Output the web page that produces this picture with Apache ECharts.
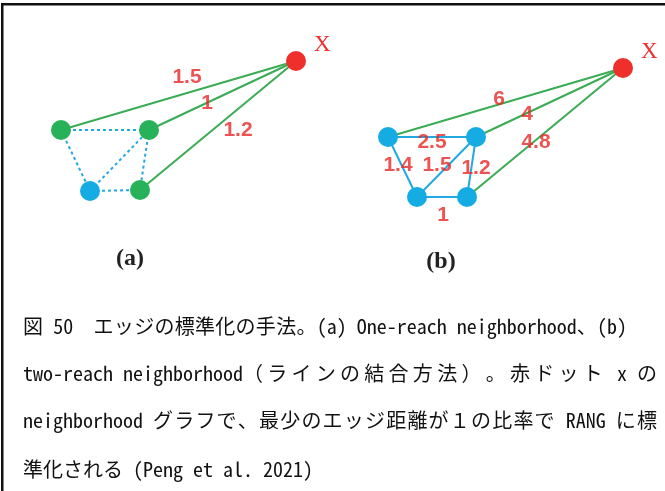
<!DOCTYPE html>
<html>
<head>
<meta charset="utf-8">
<script src="https://cdn.jsdelivr.net/npm/echarts@6/dist/echarts.min.js"></script>
<style>
html,body{margin:0;padding:0;background:#fff;}
#chart{width:665px;height:491px;}
</style>
</head>
<body>
<div id="chart"></div>
<script>
// ---- data (diagram units: x to the right, y downward) ----
const nodeIds   = ['aX','a1','a2','a3','a4','bX','b1','b2','b3','b4'];
const nodeX     = [29.6, 6.1, 14.9, 14.0, 9.0, 62.3, 38.8, 47.6, 41.7, 46.7];
const nodeY     = [6.1, 13.0, 13.0, 19.0, 19.1, 6.8, 13.7, 13.7, 19.7, 19.7];
const nodeRole  = ['target','neighbor','neighbor','neighbor','other','target','other','other','other','other'];
const nodeLabel = ['X','','','','','X','','','',''];

const edgeFrom  = ['aX','aX','aX','a1','a1','a4','a4','a2','bX','bX','bX','b1','b1','b3','b2','b3'];
const edgeTo    = ['a1','a2','a3','a2','a4','a3','a2','a3','b1','b2','b4','b2','b3','b2','b4','b4'];
const edgeKind  = ['reach','reach','reach','graph','graph','graph','graph','graph','reach','reach','reach','weighted','weighted','weighted','weighted','weighted'];

const weightText = ['1.5','1','1.2','6','4','4.8','2.5','1.4','1.5','1.2','1'];
const weightX    = [18.7, 20.7, 23.8, 49.9, 52.7, 53.6, 43.2, 39.8, 43.7, 47.6, 44.3];
const weightY    = [7.7, 10.3, 13.0, 9.9, 11.4, 14.2, 14.2, 16.5, 16.5, 16.8, 21.5];

const panelTitles = ['(a)', '(b)'];

const captionLines = [
  '図 50\u3000エッジの標準化の手法。(a) One-reach neighborhood、(b)',
  'two-reach neighborhood（ラインの結合方法）。赤ドット x の',
  'neighborhood グラフで、最少のエッジ距離が１の比率で RANG に標',
  '準化される (Peng et al. 2021)'
];

// ---- styles ----
const roleColor = {target:'#ee2f2c', neighbor:'#27b25a', other:'#14ace3'};
const edgeStyle = {
  reach:    {color:'#3aac55', width:2, type:'solid'},
  graph:    {color:'#23a8e0', width:2, type:[3,3]},
  weighted: {color:'#23a8e0', width:2, type:'solid'}
};

const chart = echarts.init(document.getElementById('chart'), null, {renderer:'canvas'});

const nodes = nodeIds.map((id, i) => ({
  name: id,
  value: [nodeX[i], nodeY[i]],
  itemStyle: {color: roleColor[nodeRole[i]]},
  label: {
    show: !!nodeLabel[i],
    formatter: nodeLabel[i] || '',
    position: 'right',
    offset: [3, -16],
    color: '#ee3030',
    fontFamily: 'Liberation Serif, serif',
    fontSize: 23
  }
}));

const links = edgeFrom.map((s, i) => ({
  source: s,
  target: edgeTo[i],
  lineStyle: Object.assign({opacity:1, curveness:0}, edgeStyle[edgeKind[i]])
}));

// ---- caption layout (justified lines) ----
const capFont = '20px "Noto Sans Mono CJK JP", "Noto Sans CJK JP", sans-serif';
const mctx = document.createElement('canvas').getContext('2d');
mctx.font = capFont;
function layoutLine(str, x0, y, target) {
  const tokens = [];
  let run = '';
  for (const ch of str) {
    if (ch.charCodeAt(0) < 0x2000) { run += ch; }
    else { if (run) tokens.push({t:run, cjk:false}); run = ''; tokens.push({t:ch, cjk:true}); }
  }
  if (run) tokens.push({t:run, cjk:false});
  tokens.forEach(tk => tk.w = mctx.measureText(tk.t).width);
  const natural = tokens.reduce((s, tk) => s + tk.w, 0);
  const gaps = tokens.filter((tk, i) => tk.cjk && i < tokens.length - 1).length;
  const extra = (target && gaps) ? (target - natural) / gaps : 0;
  let x = x0;
  const els = [];
  tokens.forEach((tk, i) => {
    els.push({
      type:'text', silent:true,
      style:{text:tk.t, x:x, y:y, font:capFont, fill:'#111', textVerticalAlign:'middle'}
    });
    x += tk.w + (tk.cjk && i < tokens.length - 1 ? extra : 0);
  });
  return els;
}
const lineTargets = [604, 634, 634, 0];
const lineY = [326, 373, 420, 469];
let captionEls = [];
captionLines.forEach((ln, i) => { captionEls = captionEls.concat(layoutLine(ln, 23, lineY[i], lineTargets[i])); });

const option = {
  animation: false,
  backgroundColor: '#fff',
  grid: {left:0, top:0, width:665, height:290},
  xAxis: {type:'value', min:0, max:66.5, show:false},
  yAxis: {type:'value', min:0, max:29, inverse:true, show:false},
  series: [
    {
      type: 'graph',
      coordinateSystem: 'cartesian2d',
      symbol: 'circle',
      symbolSize: 20,
      data: nodes,
      links: links,
      emphasis: {disabled:true},
      z: 2
    },
    {
      type: 'scatter',
      symbolSize: 0,
      data: weightText.map((t, i) => ({value:[weightX[i], weightY[i]], name:t})),
      label: {
        show: true,
        position: 'inside',
        formatter: p => p.name,
        color: '#e82828',
        fontFamily: '"Liberation Sans", Arial, sans-serif',
        fontWeight: 'bold',
        fontSize: 21
      },
      emphasis: {disabled:true},
      z: 3
    }
  ],
  graphic: [
    {type:'rect', silent:true, shape:{x:1, y:3, width:664, height:2.5}, style:{fill:'#111'}},
    {type:'rect', silent:true, shape:{x:1, y:3, width:2.5, height:488}, style:{fill:'#111'}},
    {type:'text', silent:true, style:{text:panelTitles[0], x:130, y:259, textAlign:'center', textVerticalAlign:'middle', font:'bold 24px "Liberation Serif", serif', fill:'#222'}},
    {type:'text', silent:true, style:{text:panelTitles[1], x:441, y:262, textAlign:'center', textVerticalAlign:'middle', font:'bold 24px "Liberation Serif", serif', fill:'#222'}}
  ].concat(captionEls)
};
chart.setOption(option);
</script>
</body>
</html>
